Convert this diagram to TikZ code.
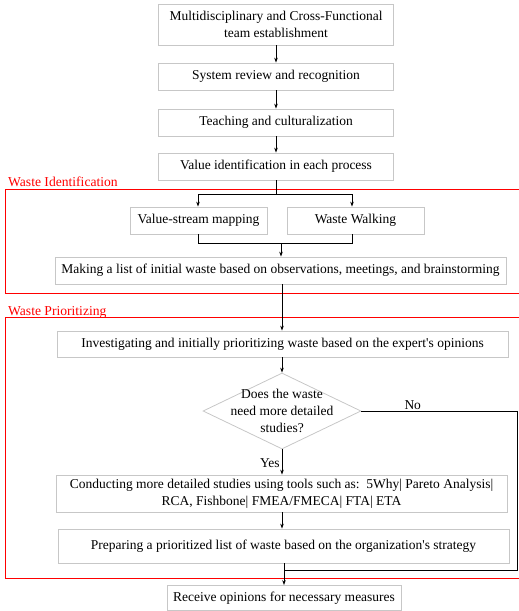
\documentclass[tikz,border=0pt]{standalone}
\usepackage{fontspec}
\setmainfont{Liberation Serif}[Ligatures=TeXOff]
\usetikzlibrary{shapes.geometric,arrows.meta}
\newcommand{\fsz}{\fontsize{13.5}{17}\selectfont}
\newcommand{\fszr}{\fontsize{13.6}{16}\selectfont}
\tikzset{
  box/.style={draw=black!22, line width=0.8pt, align=center, inner sep=1pt, font=\fsz},
  arr/.style={-{Stealth[length=5pt,width=3.5pt]}, line width=0.6pt},
  ln/.style={line width=0.6pt},
  redbox/.style={draw=red, line width=0.6pt},
  redlbl/.style={text=red, anchor=base west, inner sep=0pt, font=\fszr},
}
\begin{document}
\begin{tikzpicture}[x=1pt,y=-1pt]
\useasboundingbox (0,0) rectangle (519,611);
\begin{scope}
\clip (0,0) rectangle (519,611);
% red frames
\draw[redbox] (5,189) rectangle (530,293);
\draw[redbox] (5,317) rectangle (530,578);
\node[redlbl] (lblA) at (8,186) {Waste Identification};
\node[redlbl] (lblB) at (8,315) {Waste Prioritizing};

% boxes
\node[box, minimum width=235, minimum height=41] (b1) at (276,24.5) {Multidisciplinary and Cross-Functional\\team establishment};
\node[box, minimum width=235, minimum height=27] (b2) at (276,76.5) {System review and recognition};
\node[box, minimum width=235, minimum height=27] (b3) at (276,122.5) {Teaching and culturalization};
\node[box, minimum width=235, minimum height=27] (b4) at (276,166.5) {Value identification in each process};
\node[box, minimum width=137, minimum height=27] (vsm) at (198.5,220.5) {Value-stream mapping};
\node[box, minimum width=137, minimum height=27] (ww) at (355.5,220.5) {Waste Walking};
\node[box, minimum width=451, minimum height=27] (lst) at (280.5,270.5) {Making a list of initial waste based on observations, meetings, and brainstorming};
\node[box, minimum width=451, minimum height=26] (inv) at (282.5,344) {Investigating and initially prioritizing waste based on the expert's opinions};
\node[diamond, draw=black!22, line width=0.8pt, minimum width=158, minimum height=76, inner sep=0pt] (dec) at (282,411) {};
\node[align=center, font=\fsz, inner sep=0pt] (dect) at (dec.center) {Does the waste\\need more detailed\\studies?};
\node[box, minimum width=451, minimum height=37] (cond) at (281.5,493.5) {Conducting more detailed studies using tools such as:\ \ 5Why| Pareto Analysis|\\RCA, Fishbone| FMEA/FMECA| FTA| ETA};
\node[box, minimum width=451, minimum height=34] (prep) at (283.5,546) {Preparing a prioritized list of waste based on the organization's strategy};
\node[box, minimum width=234, minimum height=25] (rec) at (284,598) {Receive opinions for necessary measures};

% coordinates
\coordinate (s1) at (276,194);
\coordinate (s1l) at (198,194);
\coordinate (s1r) at (352,194);
\coordinate (m1l) at (198,243);
\coordinate (m1r) at (352,243);
\coordinate (m1c) at (281,243);
\coordinate (n1) at (517,411);
\coordinate (n2) at (517,570);
\coordinate (n3) at (284,570);
\coordinate (c282) at (282,0);

% connectors
\draw[arr] (b1.south) -- (b2.north);
\draw[arr] (b2.south) -- (b3.north);
\draw[arr] (b3.south) -- (b4.north);
\draw[ln] (b4.south) -- (s1);
\draw[ln] (s1l) -- (s1r);
\draw[arr] (s1l) -- (s1l |- vsm.north);
\draw[arr] (s1r) -- (s1r |- ww.north);
\draw[ln] (s1l |- vsm.south) -- (m1l) -- (m1r) -- (s1r |- ww.south);
\draw[arr] (m1c) -- (m1c |- lst.north);
\draw[arr] (c282 |- lst.south) -- (c282 |- inv.north);
\draw[arr] (c282 |- inv.south) -- (dec.north);
\draw[arr] (dec.south) -- (dec.south |- cond.north) node[pos=0.55, left, font=\fsz, inner sep=2pt] (yes) {Yes};
\draw[arr] (c282 |- cond.south) -- (c282 |- prep.north);
\draw[ln] (dec.east) -- (n1) node[pos=0.33, above, font=\fsz, inner sep=1pt] (no) {No} -- (n2) -- (n3);
\draw[arr] (prep.south -| n3) -- (rec.north -| n3);
\end{scope}
\end{tikzpicture}
\end{document}
